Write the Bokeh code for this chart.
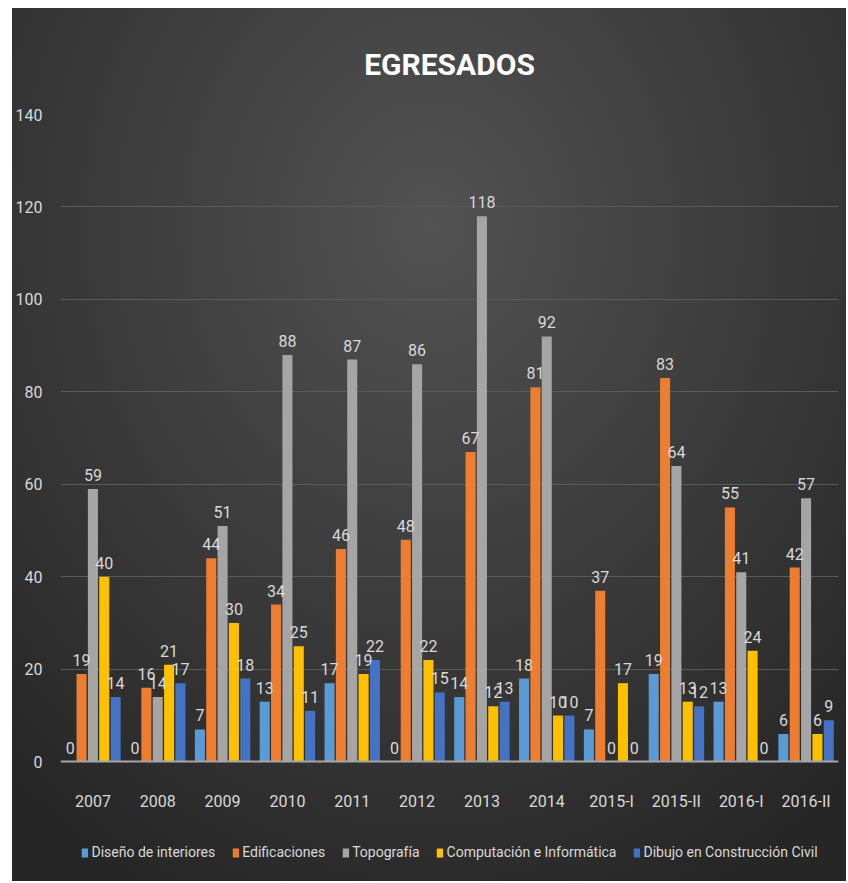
from bokeh.plotting import figure
from bokeh.models import ColumnDataSource, FactorRange, LabelSet, Legend, LegendItem, Range1d, FixedTicker
from bokeh.core.properties import value
from bokeh.transform import dodge
from bokeh.embed import file_html
from bokeh.resources import INLINE

categories = ["2007", "2008", "2009", "2010", "2011", "2012", "2013", "2014", "2015-I", "2015-II", "2016-I", "2016-II"]
diseno = [0, 0, 7, 13, 17, 0, 14, 18, 7, 19, 13, 6]
edificaciones = [19, 16, 44, 34, 46, 48, 67, 81, 37, 83, 55, 42]
topografia = [59, 14, 51, 88, 87, 86, 118, 92, 0, 64, 41, 57]
computacion = [40, 21, 30, 25, 19, 22, 12, 10, 17, 13, 24, 6]
dibujo = [14, 17, 18, 11, 22, 15, 13, 10, 0, 12, 0, 9]
y_ticks = [0, 20, 40, 60, 80, 100, 120, 140]

series_names = ["Diseño de interiores", "Edificaciones", "Topografía", "Computación e Informática", "Dibujo en Construcción Civil"]
series_vals = [diseno, edificaciones, topografia, computacion, dibujo]
colors = ["#5B9BD5", "#ED7D31", "#A5A5A5", "#FFC000", "#4472C4"]
offsets = [-0.35, -0.175, 0.0, 0.175, 0.35]

FONT = "Roboto"
TXT = "#D9D9D9"

data = {"cat": categories}
for i, v in enumerate(series_vals):
    data[f"s{i}"] = v
    data[f"t{i}"] = [str(x) for x in v]
source = ColumnDataSource(data)

p = figure(x_range=FactorRange(*categories, range_padding=0), y_range=Range1d(-22, 140),
           frame_width=778, frame_height=749, output_backend="svg", toolbar_location=None,
           title="EGRESADOS")
p.margin = (8, 2, 2, 12)
p.min_border_top = 106
p.min_border_left = 48
p.min_border_right = 8
p.min_border_bottom = 18
p.background_fill_alpha = 0
p.border_fill_alpha = 0
p.outline_line_color = None
p.styles = {"background": "radial-gradient(ellipse 75% 85% at 50% 25%, #525252 0%, #3a3a3a 55%, #262626 100%)"}

p.title.align = "center"
p.title.text_color = "#FFFFFF"
p.title.text_font = FONT
p.title.text_font_size = "30px"
p.title.text_font_style = "bold"
p.title.offset = 0
p.title.standoff = 66

renderers = []
for i in range(5):
    r = p.vbar(x=dodge("cat", offsets[i], range=p.x_range), top=f"s{i}", width=0.155,
               source=source, fill_color=colors[i], line_color=None)
    renderers.append(r)
    lbl = LabelSet(x=dodge("cat", offsets[i], range=p.x_range), y=f"s{i}", text=f"t{i}",
                   source=source, text_align="center", text_baseline="bottom", y_offset=8,
                   text_color=TXT, text_font=value(FONT), text_font_size="16px")
    p.add_layout(lbl)

p.yaxis.ticker = FixedTicker(ticks=y_ticks)
p.ygrid.ticker = FixedTicker(ticks=y_ticks)
p.ygrid.grid_line_color = "#5a5a5a"
p.ygrid.grid_line_width = 1
p.xgrid.grid_line_color = None

p.yaxis.axis_line_color = None
p.yaxis.major_tick_line_color = None
p.yaxis.minor_tick_line_color = None
p.yaxis.major_label_text_color = TXT
p.yaxis.major_label_text_font = FONT
p.yaxis.major_label_text_font_size = "16px"
p.yaxis.major_label_standoff = 12

p.xaxis.fixed_location = 0
p.xaxis.axis_line_color = "#A6A6A6"
p.xaxis.axis_line_width = 2
p.xaxis.major_tick_line_color = None
p.xaxis.minor_tick_line_color = None
p.xaxis.major_label_text_color = TXT
p.xaxis.major_label_text_font = FONT
p.xaxis.major_label_text_font_size = "16px"
p.xaxis.major_label_standoff = 24

legend = Legend(items=[LegendItem(label=series_names[i], renderers=[renderers[i]]) for i in range(5)],
                orientation="horizontal", location="bottom_center")
legend.background_fill_alpha = 0
legend.border_line_color = None
legend.label_text_color = TXT
legend.label_text_font = FONT
legend.label_text_font_size = "14px"
legend.glyph_width = 8
legend.glyph_height = 11
legend.label_standoff = 3
legend.spacing = 16
legend.margin = 3
legend.padding = 4
p.add_layout(legend, "center")

open("out.html", "w").write(file_html(p, INLINE))
